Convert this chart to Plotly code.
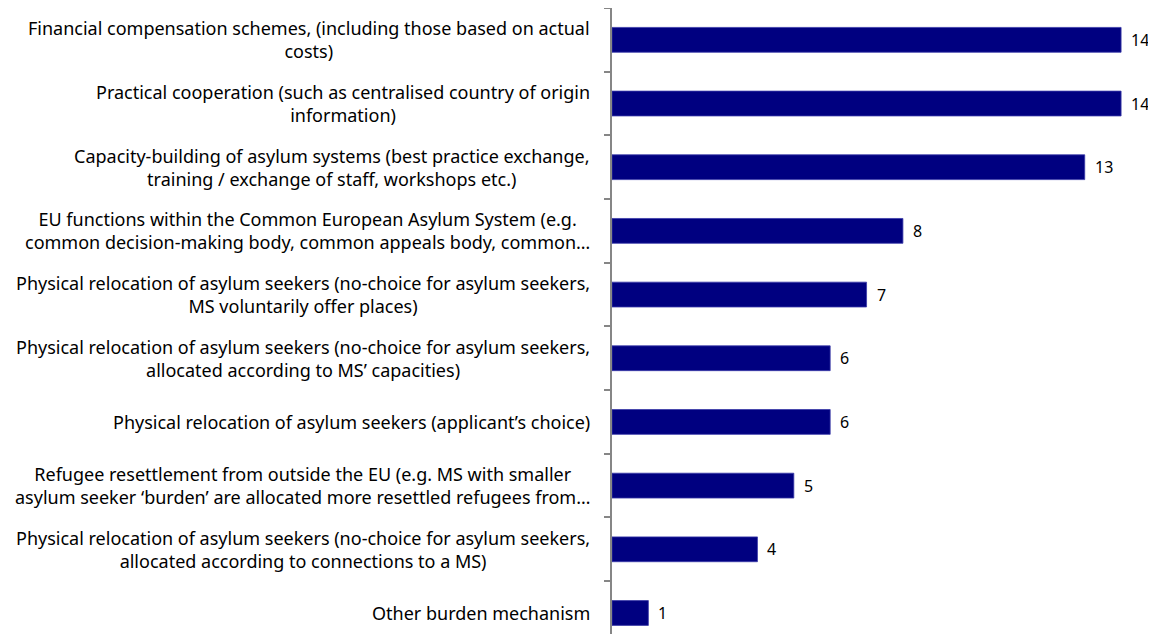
import plotly.graph_objects as go

NAVY = "#000080"
AXIS_GREY = "#868686"
FONT = "Noto Sans, Open Sans, sans-serif"

# categories top -> bottom, as in the source chart
labels = [
    "Financial compensation schemes, (including those based on actual<br>costs)",
    "Practical cooperation (such as centralised country of origin<br>information)",
    "Capacity-building of asylum systems (best practice exchange,<br>training / exchange of staff, workshops etc.)",
    "EU functions within the Common European Asylum System (e.g.<br>common decision-making body, common appeals body, common…",
    "Physical relocation of asylum seekers (no-choice for asylum seekers,<br>MS voluntarily offer places)",
    "Physical relocation of asylum seekers (no-choice for asylum seekers,<br>allocated according to MS’ capacities)",
    "Physical relocation of asylum seekers (applicant’s choice)",
    "Refugee resettlement from outside the EU (e.g. MS with smaller<br>asylum seeker ‘burden’ are allocated more resettled refugees from…",
    "Physical relocation of asylum seekers (no-choice for asylum seekers,<br>allocated according to connections to a MS)",
    "Other burden mechanism",
]
counts = [14, 14, 13, 8, 7, 6, 6, 5, 4, 1]

keys = [f"c{i}" for i in range(len(labels))]

fig = go.Figure(go.Bar(
    x=counts,
    y=keys,
    orientation="h",
    marker=dict(color=NAVY, line=dict(color="#3a3aa8", width=0.8)),
    width=0.39,
    hoverinfo="x",
))

# category labels: right-aligned block, lines centred (as in the original)
for k, lab in zip(keys, labels):
    fig.add_annotation(
        x=0, xref="paper", y=k, yref="y",
        text=lab, showarrow=False,
        xanchor="right", xshift=-20, align="center",
        font=dict(family=FONT, size=18, color="#000000"),
    )

# value labels just past the bar ends
for k, v in zip(keys, counts):
    fig.add_annotation(
        x=v, xref="x", y=k, yref="y",
        text=str(v), showarrow=False,
        xanchor="left", xshift=8,
        font=dict(family=FONT, size=16, color="#000000"),
    )

# figure sized to fit inside the page's default 8px body margin (no scrollbars);
# the category range runs a little past the bottom edge, like the source crop
fig.update_layout(
    width=1140, height=626,
    margin=dict(l=604, r=0, t=0, b=0),
    plot_bgcolor="white", paper_bgcolor="white",
    showlegend=False,
)
fig.update_xaxes(range=[0, 14.74], visible=False)
fig.update_yaxes(
    categoryorder="array", categoryarray=keys,
    range=[9.33, -0.5],
    showticklabels=False,
    showline=True, linecolor=AXIS_GREY, linewidth=1.5,
    ticks="outside", tickson="boundaries", ticklen=6, tickcolor=AXIS_GREY, tickwidth=1.5,
    showgrid=False,
)

fig.write_html("out.html")
